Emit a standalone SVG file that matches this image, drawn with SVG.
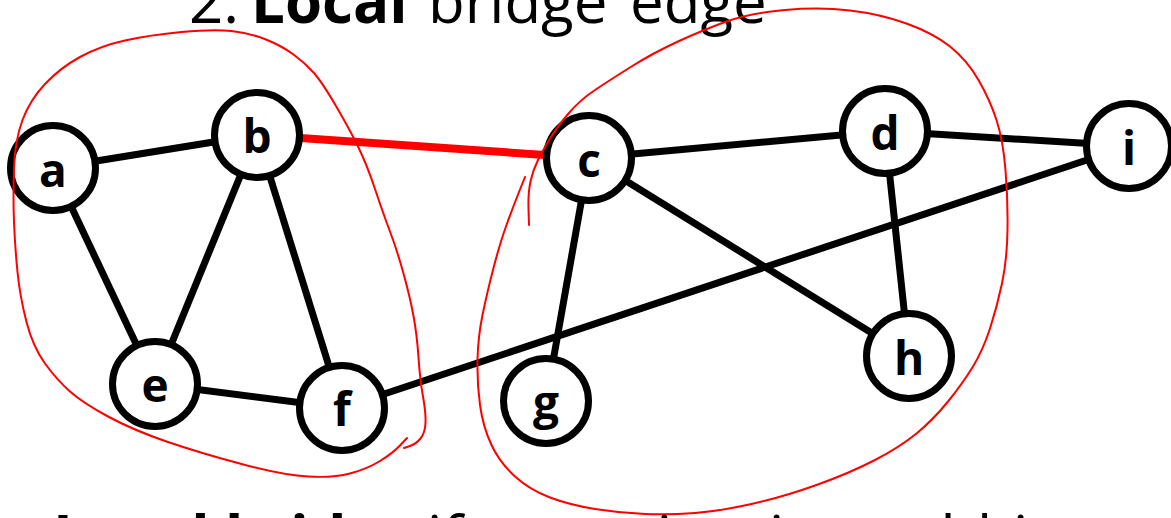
<svg xmlns="http://www.w3.org/2000/svg" width="1171" height="518" viewBox="0 0 1171 518">
<style>
.edge{stroke:#000;stroke-width:7;fill:none}
.bridge{stroke:#ff0000;stroke-width:8;fill:none}
.node circle{fill:#fff;stroke:#000;stroke-width:7}
.node text{font-family:"Open Sans","Noto Sans",sans-serif;font-weight:bold;font-size:46px;text-anchor:middle;fill:#000}
.loop{stroke:#ff0000;stroke-width:2;fill:none;stroke-linecap:round;stroke-linejoin:round}
.t{font-family:"Open Sans","Noto Sans",sans-serif;font-size:60px;fill:#000}
</style>
<rect width="1171" height="518" fill="#fff"/>
<text class="t" y="23"><tspan x="189">2.</tspan><tspan x="251" font-weight="bold">Local</tspan><tspan x="428">bridge</tspan><tspan x="630">edge</tspan></text>
<g id="connectors">
<line class="edge" x1="53" y1="168" x2="257" y2="135"/>
<line class="edge" x1="53" y1="168" x2="155" y2="384"/>
<line class="edge" x1="257" y1="135" x2="155" y2="384"/>
<line class="edge" x1="257" y1="135" x2="342" y2="408"/>
<line class="edge" x1="155" y1="384" x2="342" y2="408"/>
<line class="edge" x1="342" y1="408" x2="1129" y2="146"/>
<line class="edge" x1="589" y1="158" x2="885" y2="131"/>
<line class="edge" x1="589" y1="158" x2="546" y2="401"/>
<line class="edge" x1="589" y1="158" x2="909" y2="356"/>
<line class="edge" x1="885" y1="131" x2="1129" y2="146"/>
<line class="edge" x1="885" y1="131" x2="909" y2="356"/>
<line class="bridge" x1="257" y1="135" x2="589" y2="158"/>
</g>
<g id="node-a" class="node"><circle cx="53" cy="168" r="42.5"/><text x="53" y="187">a</text></g>
<g id="node-b" class="node"><circle cx="257" cy="135" r="42.5"/><text x="257" y="153">b</text></g>
<g id="node-c" class="node"><circle cx="589" cy="158" r="42.5"/><text x="589" y="177">c</text></g>
<g id="node-d" class="node"><circle cx="885" cy="131" r="42.5"/><text x="885" y="150">d</text></g>
<g id="node-e" class="node"><circle cx="155" cy="384" r="42.5"/><text x="155" y="402">e</text></g>
<g id="node-f" class="node"><circle cx="342" cy="408" r="42.5"/><text x="342" y="426">f</text></g>
<g id="node-g" class="node"><circle cx="546" cy="401" r="42.5"/><text x="546" y="419">g</text></g>
<g id="node-h" class="node"><circle cx="909" cy="356" r="42.5"/><text x="909" y="375">h</text></g>
<g id="node-i" class="node"><circle cx="1129" cy="146" r="42.5"/><text x="1129" y="165">i</text></g>
<g id="groups">
<path class="loop" d="M407,438 L400,445.5 Q393,453 380,461 Q367,469 350,473.5 Q333,478 308,476.5 Q283,475 241.5,464 Q200,453 166.5,441.5 Q133,430 108,416.5 Q83,403 70,391.5 Q57,380 45,363.5 Q33,347 26.5,322 Q20,297 17.5,272 Q15,247 14,222 Q13,197 14,168.5 Q15,140 22.5,120 Q30,100 45,84 Q60,68 80,57 Q100,46 125,40.5 Q150,35 181.5,32 Q213,29 231.5,31 Q250,33 266,39.5 Q282,46 293.5,54.5 Q305,63 313.5,72.5 Q322,82 336,106 Q350,130 358.5,147.5 Q367,165 375,189 Q383,213 390,231.5 Q397,250 403.5,273.5 Q410,297 413.5,316 Q417,335 418.5,357.5 Q420,380 423,396.5 Q426,413 425.5,423 Q425,433 420.5,438.5 Q416,444 410,446 L404,448"/>
<path class="loop" d="M525,177 L519,192 Q513,207 506.5,225 Q500,243 493.5,268 Q487,293 482.5,315 Q478,337 477.5,360 Q477,383 480,405 Q483,427 491.5,445 Q500,463 515,476.5 Q530,490 550,497.5 Q570,505 595,509 Q620,513 645,514 Q670,515 695,513 Q720,511 751.5,504 Q783,497 816.5,485 Q850,473 875,460 Q900,447 916.5,433.5 Q933,420 948,401.5 Q963,383 973,366.5 Q983,350 990,328.5 Q997,307 1002,283.5 Q1007,260 1007.5,230 Q1008,200 1005.5,170 Q1003,140 996.5,120 Q990,100 978.5,80 Q967,60 950,46.5 Q933,33 906.5,23.5 Q880,14 850,10.5 Q820,7 785,10 Q750,13 726.5,21.5 Q703,30 678,41.5 Q653,53 631.5,66.5 Q610,80 595,90 Q580,100 568.5,113.5 Q557,127 550,138.5 Q543,150 538,160 Q533,170 530.5,181.5 Q528,193 528.5,209 L529,225"/>
</g>
<text class="t" y="559"><tspan x="53" font-weight="bold">Local bridge</tspan><tspan x="427">if</tspan><tspan x="477">removing</tspan><tspan x="769">it</tspan><tspan x="821">would</tspan><tspan x="1013">increase</tspan></text>
</svg>
